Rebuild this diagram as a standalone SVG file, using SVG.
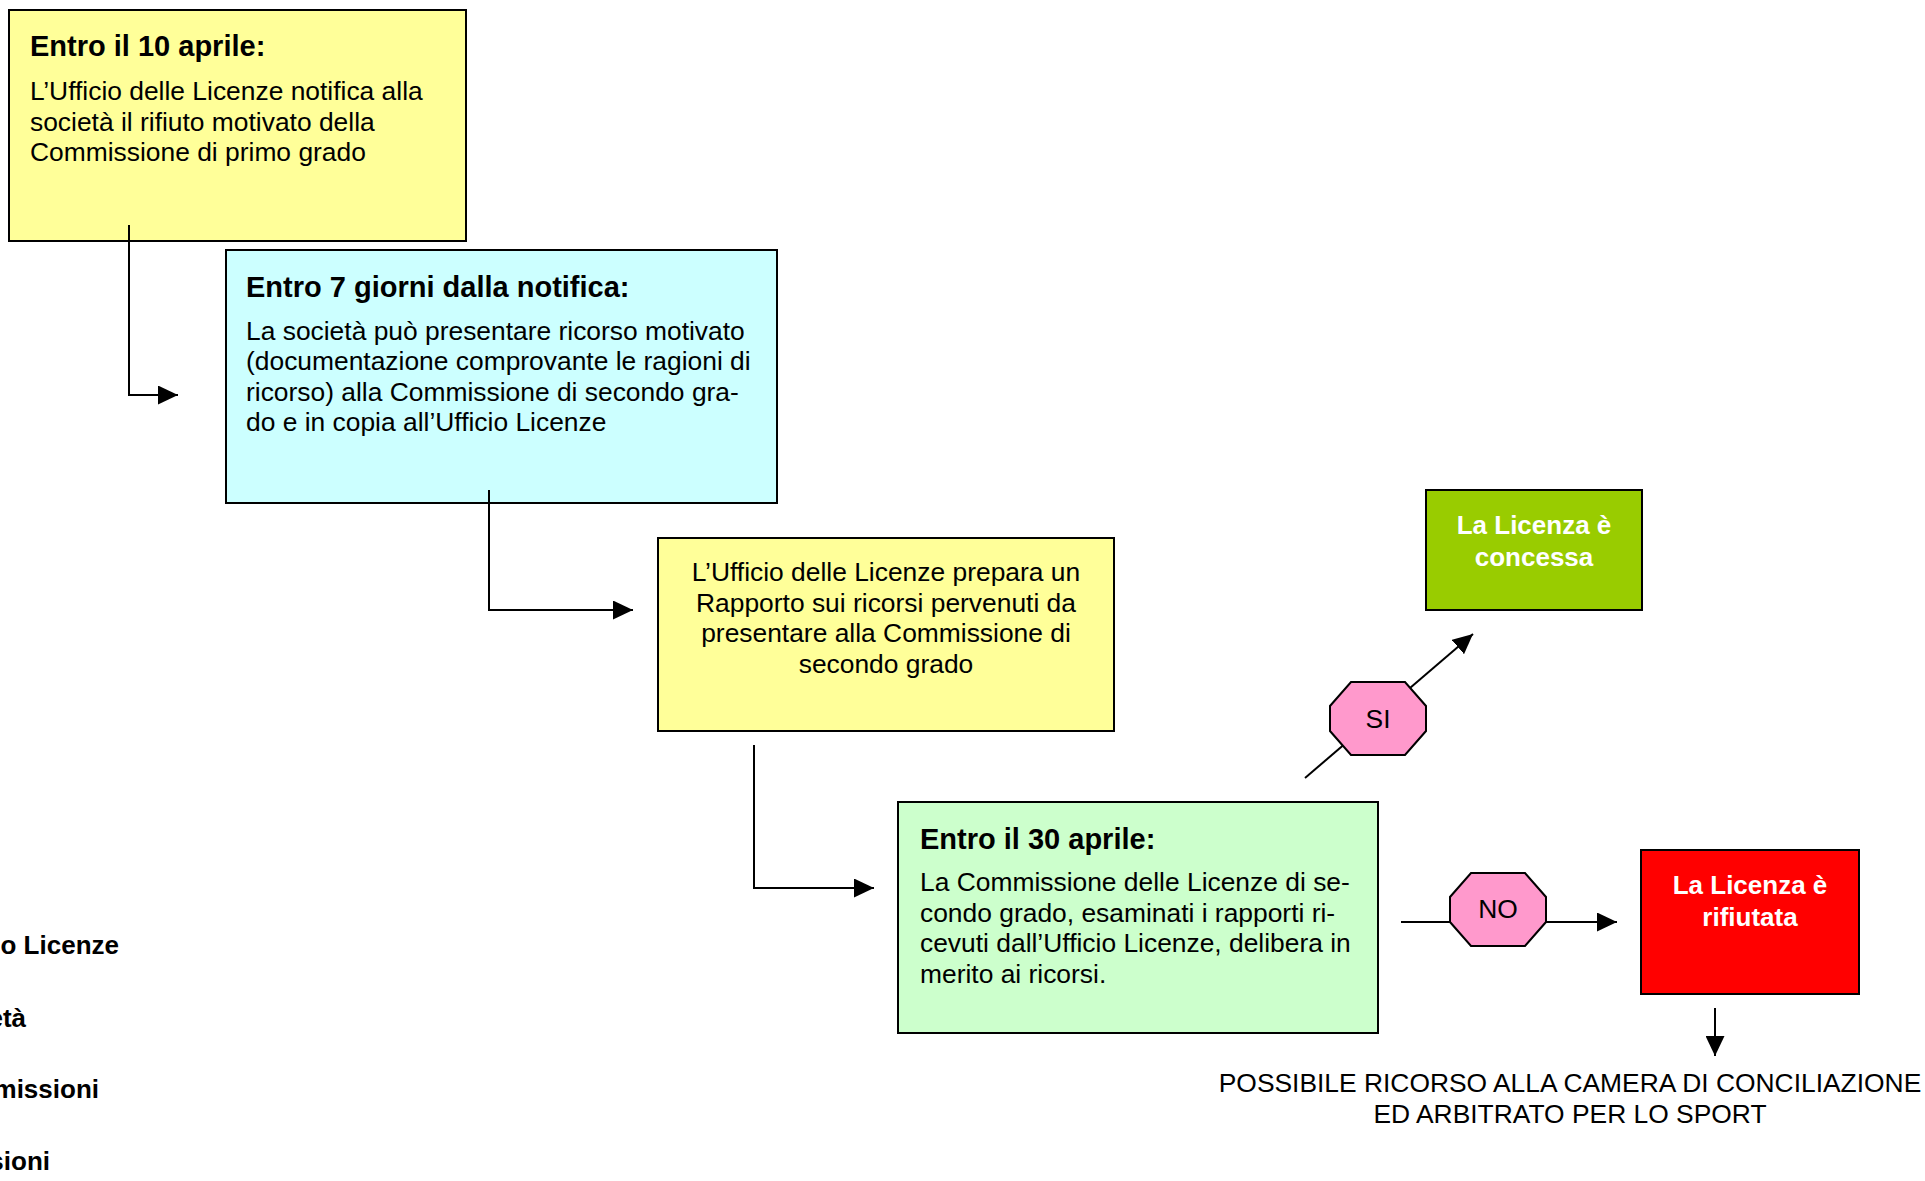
<svg xmlns="http://www.w3.org/2000/svg" width="1925" height="1181" viewBox="0 0 1925 1181">
<defs>
<style>
.box{stroke:#000;stroke-width:2}
.t{font-family:"Liberation Sans",Arial,sans-serif;font-size:26.4px;fill:#000}
.b{font-family:"Liberation Sans",Arial,sans-serif;font-size:29px;font-weight:bold;fill:#000}
.w{font-family:"Liberation Sans",Arial,sans-serif;font-size:26px;font-weight:bold;fill:#fff;text-anchor:middle}
.c{text-anchor:middle}
.lg{font-family:"Liberation Sans",Arial,sans-serif;font-size:26px;font-weight:bold;fill:#000;text-anchor:end}
.ln{fill:none;stroke:#000;stroke-width:2}
.oct{fill:#FF99CC;stroke:#000;stroke-width:2}
</style>
<marker id="arr" markerUnits="userSpaceOnUse" markerWidth="20" markerHeight="19" refX="20" refY="9.5" orient="auto">
<path d="M0,0 L20,9.5 L0,19 z" fill="#000"/>
</marker>
</defs>
<rect width="1925" height="1181" fill="#fff"/>

<g id="box1">
<rect class="box" x="9" y="10" width="457" height="231" fill="#FFFF99"/>
<text class="b" x="30" y="56">Entro il 10 aprile:</text>
<text class="t" x="30" y="100">L’Ufficio delle Licenze notifica alla</text>
<text class="t" x="30" y="130.5">società il rifiuto motivato della</text>
<text class="t" x="30" y="161">Commissione di primo grado</text>
</g>

<g id="box2">
<rect class="box" x="226" y="250" width="551" height="253" fill="#CCFFFF"/>
<text class="b" x="246" y="297">Entro 7 giorni dalla notifica:</text>
<text class="t" x="246" y="339.5">La società può presentare ricorso motivato</text>
<text class="t" x="246" y="370">(documentazione comprovante le ragioni di</text>
<text class="t" x="246" y="400.5">ricorso) alla Commissione di secondo gra-</text>
<text class="t" x="246" y="431">do e in copia all’Ufficio Licenze</text>
</g>

<g id="box3">
<rect class="box" x="658" y="538" width="456" height="193" fill="#FFFF99"/>
<text class="t c" x="886" y="581">L’Ufficio delle Licenze prepara un</text>
<text class="t c" x="886" y="611.5">Rapporto sui ricorsi pervenuti da</text>
<text class="t c" x="886" y="642">presentare alla Commissione di</text>
<text class="t c" x="886" y="672.5">secondo grado</text>
</g>

<g id="box4">
<rect class="box" x="898" y="802" width="480" height="231" fill="#CCFFCC"/>
<text class="b" x="920" y="849">Entro il 30 aprile:</text>
<text class="t" x="920" y="891">La Commissione delle Licenze di se-</text>
<text class="t" x="920" y="921.5">condo grado, esaminati i rapporti ri-</text>
<text class="t" x="920" y="952">cevuti dall’Ufficio Licenze, delibera in</text>
<text class="t" x="920" y="982.5">merito ai ricorsi.</text>
</g>

<g id="concessa">
<rect class="box" x="1426" y="490" width="216" height="120" fill="#99CC00"/>
<text class="w" x="1534" y="534">La Licenza è</text>
<text class="w" x="1534" y="566">concessa</text>
</g>

<g id="rifiutata">
<rect class="box" x="1641" y="850" width="218" height="144" fill="#FF0000"/>
<text class="w" x="1750" y="894">La Licenza è</text>
<text class="w" x="1750" y="926">rifiutata</text>
</g>

<g id="connectors">
<polyline class="ln" points="129,225 129,395 178,395" marker-end="url(#arr)"/>
<polyline class="ln" points="489,490 489,610 633,610" marker-end="url(#arr)"/>
<polyline class="ln" points="754,745 754,888 874,888" marker-end="url(#arr)"/>
<line class="ln" x1="1305" y1="778" x2="1473" y2="634" marker-end="url(#arr)"/>
<line class="ln" x1="1401" y1="922" x2="1617" y2="922" marker-end="url(#arr)"/>
<line class="ln" x1="1715" y1="1008" x2="1715" y2="1056" marker-end="url(#arr)"/>
</g>

<g id="si">
<polygon class="oct" points="1351,682 1405,682 1426,706 1426,731 1405,755 1351,755 1330,731 1330,706"/>
<text class="t c" x="1378" y="727.5">SI</text>
</g>

<g id="no">
<polygon class="oct" points="1471,873 1525,873 1546,897 1546,922 1525,946 1471,946 1450,922 1450,897"/>
<text class="t c" x="1498" y="917.5">NO</text>
</g>

<g id="ricorso">
<text class="t c" x="1570" y="1092">POSSIBILE RICORSO ALLA CAMERA DI CONCILIAZIONE</text>
<text class="t c" x="1570" y="1123">ED ARBITRATO PER LO SPORT</text>
</g>

<g id="legend">
<text class="lg" x="119" y="954">o Licenze</text>
<text class="lg" x="26" y="1027">età</text>
<text class="lg" x="99" y="1098">missioni</text>
<text class="lg" x="50" y="1170">sioni</text>
</g>
</svg>
